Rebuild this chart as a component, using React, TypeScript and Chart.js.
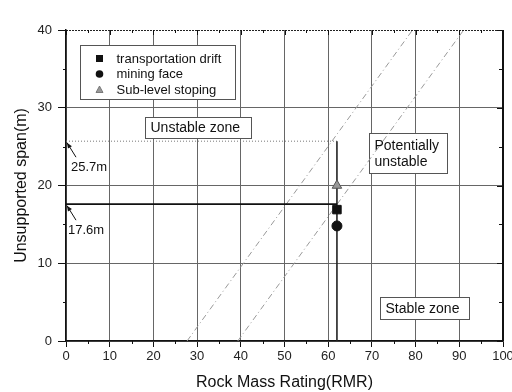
import React, { useEffect, useRef } from "react";
import { Chart, registerables } from "chart.js";

Chart.register(...registerables);

// ---- data ----
const legendNames = ["transportation drift", "mining face", "Sub-level stoping"];
const transportationDrift = [{ x: 62, y: 16.9 }];
const miningFace = [{ x: 62, y: 14.8 }];
const subLevelStoping = [{ x: 62, y: 20.0 }];
const span176Line = [{ x: 0, y: 17.6 }, { x: 62, y: 17.6 }];
const span257Line = [{ x: 0, y: 25.7 }, { x: 62, y: 25.7 }];
const rmrLine = [{ x: 62, y: 0 }, { x: 62, y: 25.7 }];
const lowerBoundary = [{ x: 27.7, y: 0 }, { x: 79.3, y: 40 }];
const upperBoundary = [{ x: 39.3, y: 0 }, { x: 91, y: 40 }];
const xRange = [0, 100];
const yRange = [0, 40];
const spanMarks = [
  { label: "25.7m", y: 25.7 },
  { label: "17.6m", y: 17.6 },
];
const zoneLabels = [
  { lines: ["Unstable zone"], x1: 18.1, x2: 42.3, y1: 28.8, y2: 26.1 },
  { lines: ["Potentially", "unstable"], x1: 69.3, x2: 87.2, y1: 26.75, y2: 21.6 },
  { lines: ["Stable zone"], x1: 71.9, x2: 92.2, y1: 5.66, y2: 2.83 },
];
const legendBox = { x1: 3.2, x2: 38.7, y1: 38.1, y2: 31.1 };

const FONT = "'Liberation Sans', Arial, sans-serif";

function drawMarker(ctx: CanvasRenderingContext2D, kind: number, cx: number, cy: number) {
  ctx.save();
  if (kind === 0) {
    ctx.fillStyle = "#111";
    ctx.fillRect(cx - 3.5, cy - 3.5, 7, 7);
  } else if (kind === 1) {
    ctx.fillStyle = "#111";
    ctx.beginPath();
    ctx.arc(cx, cy, 3.8, 0, Math.PI * 2);
    ctx.fill();
  } else {
    ctx.fillStyle = "#999";
    ctx.strokeStyle = "#666";
    ctx.lineWidth = 0.8;
    ctx.beginPath();
    ctx.moveTo(cx, cy - 3.5);
    ctx.lineTo(cx + 3.5, cy + 3);
    ctx.lineTo(cx - 3.5, cy + 3);
    ctx.closePath();
    ctx.fill();
    ctx.stroke();
  }
  ctx.restore();
}

const overlay = {
  id: "overlay",
  beforeDatasetsDraw(chart: any) {
    const { ctx, chartArea } = chart;
    const xs = chart.scales.x;
    const ys = chart.scales.y;
    ctx.save();
    // minor outward ticks (bottom, left)
    ctx.strokeStyle = "#111";
    ctx.lineWidth = 1;
    ctx.beginPath();
    for (let v = 5; v < 100; v += 10) {
      const px = Math.round(xs.getPixelForValue(v)) + 0.5;
      ctx.moveTo(px, chartArea.bottom);
      ctx.lineTo(px, chartArea.bottom + 3);
    }
    for (let v = 5; v < 40; v += 10) {
      const py = Math.round(ys.getPixelForValue(v)) + 0.5;
      ctx.moveTo(chartArea.left - 3, py);
      ctx.lineTo(chartArea.left, py);
    }
    ctx.stroke();

    // zone label boxes
    ctx.font = `14px ${FONT}`;
    ctx.textBaseline = "middle";
    ctx.textAlign = "left";
    for (const z of zoneLabels) {
      const l = Math.round(xs.getPixelForValue(z.x1)) + 0.5;
      const r = Math.round(xs.getPixelForValue(z.x2)) + 0.5;
      const t = Math.round(ys.getPixelForValue(z.y1)) + 0.5;
      const b = Math.round(ys.getPixelForValue(z.y2)) + 0.5;
      ctx.fillStyle = "#fff";
      ctx.fillRect(l, t, r - l, b - t);
      ctx.strokeStyle = "#555";
      ctx.lineWidth = 1;
      ctx.strokeRect(l, t, r - l, b - t);
      ctx.fillStyle = "#111";
      const n = z.lines.length;
      const lh = 16.5;
      const cy = (t + b) / 2;
      z.lines.forEach((s, i) => {
        ctx.fillText(s, l + 5, cy + (i - (n - 1) / 2) * lh + 0.5);
      });
    }

    // legend
    const L = Math.round(xs.getPixelForValue(legendBox.x1)) + 0.5;
    const R = Math.round(xs.getPixelForValue(legendBox.x2)) + 0.5;
    const T = Math.round(ys.getPixelForValue(legendBox.y1)) + 0.5;
    const B = Math.round(ys.getPixelForValue(legendBox.y2)) + 0.5;
    ctx.fillStyle = "#fff";
    ctx.fillRect(L, T, R - L, B - T);
    ctx.strokeStyle = "#555";
    ctx.lineWidth = 1;
    ctx.strokeRect(L, T, R - L, B - T);
    ctx.font = `13px ${FONT}`;
    ctx.fillStyle = "#111";
    legendNames.forEach((name, i) => {
      const cy = T + 13 + i * 15.5;
      drawMarker(ctx, i, L + 19, cy);
      ctx.fillStyle = "#111";
      ctx.fillText(name, L + 36, cy + 0.5);
    });
    ctx.restore();
  },
  afterDatasetsDraw(chart: any) {
    const { ctx, chartArea } = chart;
    const ys = chart.scales.y;
    ctx.save();
    ctx.font = `13px ${FONT}`;
    ctx.textBaseline = "middle";
    ctx.textAlign = "left";
    spanMarks.forEach((m, i) => {
      const tipX = chartArea.left;
      const tipY = ys.getPixelForValue(m.y);
      const tailX = tipX + 10;
      const tailY = tipY + 16;
      ctx.strokeStyle = "#111";
      ctx.fillStyle = "#111";
      ctx.lineWidth = 1;
      ctx.beginPath();
      ctx.moveTo(tailX, tailY);
      ctx.lineTo(tipX + 1, tipY + 1.5);
      ctx.stroke();
      const ang = Math.atan2(tipY - tailY, tipX - tailX);
      const ah = 6;
      ctx.beginPath();
      ctx.moveTo(tipX + 1, tipY + 1.5);
      ctx.lineTo(tipX + 1 - ah * Math.cos(ang - 0.4), tipY + 1.5 - ah * Math.sin(ang - 0.4));
      ctx.lineTo(tipX + 1 - ah * Math.cos(ang + 0.4), tipY + 1.5 - ah * Math.sin(ang + 0.4));
      ctx.closePath();
      ctx.fill();
      ctx.fillText(m.label, tipX + (i === 0 ? 5 : 2), tipY + 26);
    });
    ctx.restore();
  },
  afterDraw(chart: any) {
    const { ctx, chartArea } = chart;
    const xs = chart.scales.x;
    const ys = chart.scales.y;
    ctx.save();
    // top frame (dotted) and right frame (solid)
    ctx.strokeStyle = "#222";
    ctx.lineWidth = 1.2;
    ctx.setLineDash([2, 1]);
    ctx.beginPath();
    ctx.moveTo(chartArea.left, chartArea.top + 0.5);
    ctx.lineTo(chartArea.right, chartArea.top + 0.5);
    ctx.stroke();
    ctx.setLineDash([]);
    ctx.strokeStyle = "#111";
    ctx.lineWidth = 2;
    ctx.beginPath();
    ctx.moveTo(chartArea.right, chartArea.top);
    ctx.lineTo(chartArea.right, chartArea.bottom);
    ctx.stroke();
    // inward ticks top and right
    ctx.lineWidth = 1;
    ctx.beginPath();
    for (let v = xRange[0]; v <= xRange[1]; v += 5) {
      const px = Math.round(xs.getPixelForValue(v)) + 0.5;
      const len = v % 10 === 0 ? 5 : 3;
      ctx.moveTo(px, chartArea.top);
      ctx.lineTo(px, chartArea.top + len);
    }
    for (let v = yRange[0]; v <= yRange[1]; v += 5) {
      const py = Math.round(ys.getPixelForValue(v)) + 0.5;
      const len = v % 10 === 0 ? 6 : 4;
      ctx.moveTo(chartArea.right - len, py);
      ctx.lineTo(chartArea.right, py);
    }
    ctx.stroke();
    ctx.restore();
  },
};

export default function App() {
  const ref = useRef<HTMLCanvasElement | null>(null);
  useEffect(() => {
    if (!ref.current) return;
    const lineDs = (data: any, color: string, width: number, dash: number[]) => ({
      type: "line" as const,
      data,
      showLine: true,
      borderColor: color,
      borderWidth: width,
      borderDash: dash,
      pointRadius: 0,
      fill: false,
      tension: 0,
    });
    const chart = new Chart(ref.current, {
      type: "scatter",
      data: {
        datasets: [
          {
            label: legendNames[0],
            data: transportationDrift,
            pointStyle: "rect",
            pointRadius: 6,
            backgroundColor: "#111",
            borderColor: "#111",
          },
          {
            label: legendNames[1],
            data: miningFace,
            pointStyle: "circle",
            pointRadius: 5,
            backgroundColor: "#111",
            borderColor: "#111",
          },
          {
            label: legendNames[2],
            data: subLevelStoping,
            pointStyle: "triangle",
            pointRadius: 5.5,
            backgroundColor: "#999",
            borderColor: "#555",
            borderWidth: 1,
          },
          lineDs(span176Line, "#111", 1.6, []),
          lineDs(rmrLine, "#222", 1.6, []),
          lineDs(span257Line, "#777", 1, [1, 2]),
          lineDs(lowerBoundary, "#999", 1, [6, 3, 1, 3]),
          lineDs(upperBoundary, "#999", 1, [6, 3, 1, 3]),
        ] as any,
      },
      options: {
        animation: false,
        responsive: false,
        devicePixelRatio: 1,
        layout: { padding: { top: 30, right: 9, bottom: 0, left: 0 } },
        plugins: { legend: { display: false }, tooltip: { enabled: false } },
        scales: {
          x: {
            type: "linear",
            min: xRange[0],
            max: xRange[1],
            ticks: {
              stepSize: 10,
              padding: 2,
              color: "#222",
              font: { family: FONT, size: 13 },
              maxRotation: 0,
              autoSkip: false,
            },
            grid: {
              color: "#666",
              lineWidth: 1,
              tickLength: 6,
              tickColor: "#111",
            },
            border: { color: "#111", width: 1.5 },
            title: {
              display: true,
              text: "Rock Mass Rating(RMR)",
              color: "#111",
              font: { family: FONT, size: 16 },
              padding: { top: 0, bottom: 0 },
            },
            afterFit: (s: any) => {
              s.height = 51;
              s.paddingLeft = 0;
              s.paddingRight = 0;
            },
          },
          y: {
            type: "linear",
            min: yRange[0],
            max: yRange[1],
            ticks: {
              stepSize: 10,
              padding: 6,
              color: "#222",
              font: { family: FONT, size: 13 },
            },
            grid: {
              color: (c: any) => (c.tick && c.tick.value === yRange[1] ? "rgba(0,0,0,0)" : "#666"),
              lineWidth: 1,
              tickLength: 8,
              tickColor: "#111",
            },
            border: { color: "#111", width: 1.5 },
            title: {
              display: true,
              text: "Unsupported span(m)",
              color: "#111",
              font: { family: FONT, size: 16 },
              padding: { top: 12, bottom: 0 },
            },
            afterFit: (s: any) => {
              s.width = 66;
              s.paddingTop = 0;
              s.paddingBottom = 0;
            },
          },
        },
      },
      plugins: [overlay],
    } as any);
    return () => chart.destroy();
  }, []);
  return (
    <div style={{ position: "absolute", left: 0, top: 0, width: 512, height: 392, background: "#fff" }}>
      <canvas ref={ref} width={512} height={392} style={{ width: 512, height: 392, display: "block" }} />
    </div>
  );
}
